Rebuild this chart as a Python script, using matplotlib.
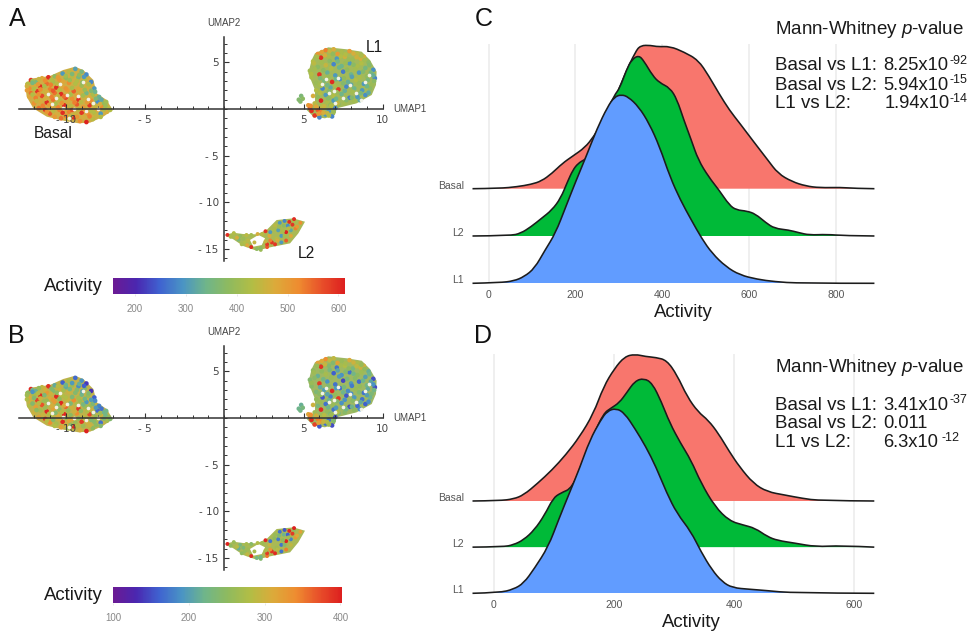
import matplotlib
matplotlib.use('Agg')
import matplotlib.pyplot as plt
from matplotlib.cm import ScalarMappable
from matplotlib.colors import LinearSegmentedColormap, Normalize
from matplotlib.patches import PathPatch
from matplotlib.path import Path
from matplotlib.transforms import ScaledTranslation

plt.rcParams['font.family'] = ['Liberation Sans', 'DejaVu Sans']
plt.rcParams['mathtext.fontset'] = 'custom'
plt.rcParams['mathtext.it'] = 'Liberation Sans:italic'
plt.rcParams['mathtext.rm'] = 'Liberation Sans'

W, H = 973, 635

# cluster outlines on the UMAP plane
basal_out_x = [-12.57, -12.05, -11.0, -10.16, -9.42, -8.9, -8.26, -8.05, -7.42, -7.04, -7.63, -8.47, -9.2, -10.16, -11.2, -12.05, -12.47]
basal_out_y = [2.75, 3.29, 3.54, 4.18, 4.53, 4.18, 3.11, 1.68, 0.96, -0.11, -0.82, -1.47, -1.53, -1.25, -0.82, 0.07, 1.32]
l1_out_x = [5.72, 6.56, 7.72, 8.67, 9.19, 9.61, 9.57, 9.3, 8.35, 7.09, 6.98, 6.35, 5.62, 5.2, 5.72, 5.72, 5.3, 5.51]
l1_out_y = [5.97, 6.61, 6.4, 6.14, 5.25, 4.0, 2.57, 1.5, 0.61, 0.07, -0.64, -1.0, -0.82, -0.11, 0.61, 2.04, 3.82, 5.25]
l2_out_x = [0.04, 0.57, 1.2, 2.04, 2.67, 3.3, 4.35, 5.09, 4.67, 4.15, 2.88, 2.04, 1.2, 0.57]
l2_out_y = [-13.5, -13.26, -13.4, -13.43, -12.97, -11.9, -11.72, -12.08, -13.33, -14.4, -14.83, -15.19, -14.69, -13.97]
l2_hole_x = [1.62, 2.15, 2.57, 2.36, 1.83]
l2_hole_y = [-14.04, -13.5, -13.86, -14.58, -14.76]

# single cells, with activity for panel A and panel B
basal_x = [-12.4, -12.2, -11.9, -11.5, -11.1, -10.7, -10.2, -9.8, -9.4, -9.0, -8.7,
           -12.3, -12.0, -11.6, -11.2, -10.8, -10.4, -10.0, -9.6, -9.2, -8.8, -8.4,
           -12.2, -11.8, -11.4, -11.0, -10.6, -10.2, -9.8, -9.4, -9.0, -8.6, -8.2,
           -12.3, -11.9, -11.5, -11.1, -10.7, -10.3, -9.9, -9.5, -9.1, -8.7, -8.3, -7.9,
           -12.0, -11.6, -11.2, -10.8, -10.4, -10.0, -9.6, -9.2, -8.8, -8.4, -8.0, -7.6,
           -11.7, -11.3, -10.9, -10.5, -10.1, -9.7, -9.3, -8.9, -8.5, -8.1, -7.7, -7.3,
           -11.0, -10.6, -10.2, -9.8, -9.4, -9.0, -8.6, -8.2, -7.8, -7.4,
           -10.3, -9.9, -9.5, -9.1, -8.7, -8.3,
           -12.1, -11.7, -11.3, -10.9, -10.5, -10.0, -9.6, -9.15, -8.85,
           -12.45, -12.1, -11.75, -11.35, -10.95, -10.55, -10.15, -9.75, -9.3, -8.95, -8.55,
           -12.45, -12.0, -11.6, -11.2, -10.8, -10.4, -10.0, -9.6, -9.2, -8.8, -8.4, -8.15,
           -12.1, -11.7, -11.3, -10.9, -10.5, -10.1, -9.7, -9.3, -8.9, -8.5, -8.1, -7.75, -7.45,
           -11.85, -11.45, -11.05, -10.65, -10.25, -9.85, -9.45, -9.05, -8.65, -8.25, -7.85, -7.5, -7.2,
           -11.2, -10.8, -10.4, -10.0, -9.6, -9.2, -8.8, -8.4, -8.0, -7.6,
           -10.7, -10.0, -9.7, -9.3, -8.9, -8.5, -8.1, -7.8]
basal_y = [2.7, 3.1, 2.9, 3.3, 3.4, 3.5, 3.8, 4.0, 4.3, 4.0, 3.7,
           2.2, 2.5, 2.4, 2.7, 2.9, 3.1, 3.3, 3.5, 3.4, 3.2, 2.9,
           1.7, 1.9, 1.8, 2.1, 2.3, 2.4, 2.8, 2.7, 2.5, 2.4, 2.2,
           1.3, 1.2, 1.4, 1.5, 1.7, 1.6, 2.0, 1.9, 1.8, 1.7, 1.5, 1.3,
           0.6, 0.8, 0.7, 1.0, 0.9, 1.2, 1.1, 1.0, 1.2, 0.9, 0.8, 0.6,
           0.1, -0.1, 0.3, 0.2, 0.4, 0.3, 0.5, 0.2, 0.4, 0.1, 0.2, 0.1,
           -0.5, -0.6, -0.4, -0.3, -0.5, -0.4, -0.5, -0.4, -0.5, -0.3,
           -1.0, -1.1, -0.9, -1.3, -1.4, -1.1,
           3.0, 3.2, 3.05, 3.15, 3.4, 3.55, 3.75, 3.65, 3.45,
           2.45, 2.8, 2.65, 2.45, 2.6, 2.7, 2.95, 3.1, 3.0, 2.85, 2.65,
           2.0, 2.15, 2.1, 1.85, 1.95, 2.05, 2.2, 2.25, 2.15, 2.05, 1.95, 1.85,
           1.55, 1.6, 1.1, 1.3, 1.4, 1.35, 1.55, 1.45, 1.45, 1.25, 1.1, 1.0, 0.75,
           0.85, 0.35, 0.45, 0.55, 0.65, 0.8, 0.7, 0.75, 0.7, 0.55, 0.5, 0.35, -0.1,
           -0.3, -0.2, -0.1, 0.0, -0.1, -0.05, -0.1, -0.2, -0.1, -0.05,
           -0.85, -0.75, -0.75, -0.85, -0.85, -0.8, -0.75, -0.85]
basal_a = [430, 590, 360, 480, 600, 380, 300, 440, 310, 350, 285,
           520, 470, 600, 545, 420, 505, 390, 440, 350, 430, 280,
           540, 590, 455, 530, 600, 480, 520, 430, 405, 460, 300,
           480, 530, 575, 445, 540, 600, 500, 555, 460, 345, 420, 330,
           510, 470, 600, 540, 430, 575, 510, 600, 460, 520, 290, 390,
           540, 590, 480, 525, 600, 440, 560, 500, 590, 450, 520, 440,
           560, 470, 600, 530, 455, 590, 510, 430, 300, 470,
           540, 450, 600, 520, 610, 440,
           400, 450, 520, 430, 500, 410, 360, 390, 300,
           460, 350, 500, 420, 530, 440, 480, 400, 430, 380, 420,
           500, 430, 520, 470, 560, 440, 510, 420, 480, 400, 370, 340,
           430, 510, 470, 530, 450, 545, 420, 490, 410, 470, 360, 320, 410,
           450, 530, 500, 420, 510, 470, 530, 440, 500, 430, 470, 400, 430,
           510, 440, 530, 480, 560, 440, 500, 430, 480, 420,
           500, 530, 440, 510, 470, 530, 450, 430]
basal_b = [250, 395, 215, 290, 390, 210, 160, 270, 165, 190, 140,
           310, 270, 395, 330, 240, 300, 210, 260, 185, 240, 135,
           300, 380, 265, 310, 395, 280, 300, 240, 225, 260, 160,
           280, 320, 370, 250, 325, 395, 295, 340, 265, 195, 235, 180,
           300, 270, 395, 320, 245, 360, 300, 390, 260, 300, 165, 220,
           320, 385, 280, 310, 395, 250, 340, 290, 375, 260, 300, 255,
           340, 270, 395, 315, 260, 385, 300, 245, 170, 270,
           320, 255, 395, 305, 400, 250,
           225, 255, 305, 240, 285, 220, 195, 215, 160,
           265, 190, 285, 235, 300, 250, 270, 225, 240, 205, 240,
           280, 240, 300, 260, 325, 250, 280, 235, 270, 225, 200, 185,
           240, 285, 265, 305, 250, 310, 235, 275, 230, 260, 195, 170, 225,
           250, 295, 280, 240, 285, 260, 300, 250, 280, 240, 265, 225, 240,
           285, 245, 300, 270, 320, 250, 280, 240, 270, 235,
           280, 305, 250, 285, 265, 300, 250, 240]

l1_x = [5.9, 6.4, 6.9, 7.4, 7.9, 8.4, 8.8,
        5.6, 6.1, 6.6, 7.1, 7.6, 8.1, 8.6, 9.1,
        5.4, 5.9, 6.4, 6.9, 7.4, 7.9, 8.4, 8.9, 9.4,
        5.5, 6.0, 6.5, 7.0, 7.5, 8.0, 8.5, 9.0, 9.5,
        5.8, 6.3, 6.8, 7.3, 7.8, 8.3, 8.8, 9.3,
        5.8, 6.2, 6.7, 7.2, 7.7, 8.2, 8.7, 9.2,
        5.9, 6.4, 6.9, 7.4, 7.9, 8.4, 8.9,
        5.4, 5.7, 6.1, 6.5, 6.9, 7.2, 7.6,
        5.5, 5.9, 6.2, 6.6, 7.0,
        5.7, 6.0, 6.4, 6.8,
        4.7, 4.85, 4.95, 4.8, 5.6, 5.3,
        6.15, 6.65, 7.15, 7.65, 8.15, 8.65, 5.85, 6.35, 6.85, 7.35, 7.85, 8.35, 8.85,
        5.65, 6.15, 6.65, 7.15, 7.65, 8.15, 8.65, 9.15, 5.7, 6.25, 6.75, 7.25, 7.75, 8.25, 8.75, 9.25,
        5.5, 6.05, 6.55, 7.05, 7.55, 8.05, 8.55, 9.05, 9.4, 6.0, 6.5, 7.0, 7.5, 8.0, 8.5, 9.0, 9.45,
        6.1, 6.6, 7.1, 7.6, 8.1, 8.6, 9.1, 6.05, 6.55, 7.05, 7.55, 8.05, 8.55,
        6.2, 6.7, 7.15, 7.7, 8.2, 5.45, 5.8, 6.3, 6.75, 6.1, 6.5, 6.9, 5.95, 6.25, 6.6]
l1_y = [5.9, 6.3, 6.4, 6.1, 6.2, 5.9, 5.6,
        5.1, 5.5, 5.6, 5.4, 5.6, 5.3, 5.4, 5.0,
        4.1, 4.5, 4.7, 4.8, 4.6, 4.9, 4.6, 4.4, 4.2,
        3.4, 3.7, 3.9, 3.6, 4.0, 3.7, 3.9, 3.5, 3.3,
        2.8, 3.0, 2.9, 3.2, 2.9, 3.1, 2.7, 2.6,
        2.0, 2.2, 2.3, 2.1, 2.4, 2.2, 2.0, 2.2,
        1.3, 1.5, 1.4, 1.6, 1.2, 1.3, 1.5,
        0.1, 0.6, 0.9, 0.7, 0.9, 0.5, 0.6,
        -0.2, -0.1, 0.2, -0.2, 0.1,
        -0.7, -0.9, -0.6, -0.8,
        1.0, 1.4, 1.1, 0.8, 1.4, 0.4,
        6.1, 6.2, 5.9, 5.85, 5.95, 5.7, 5.6, 5.75, 5.9, 5.65, 5.3, 5.55, 5.25,
        4.9, 5.0, 5.15, 5.1, 4.95, 4.75, 4.9, 4.7, 4.3, 4.15, 4.35, 4.45, 4.2, 4.25, 4.0, 3.9,
        3.75, 3.3, 3.45, 3.2, 3.3, 3.45, 3.4, 3.1, 3.6, 2.6, 2.55, 2.5, 2.75, 2.6, 2.75, 2.45, 3.0,
        2.5, 1.9, 1.8, 1.95, 1.85, 1.7, 1.75, 1.7, 1.15, 1.1, 1.05, 1.2, 0.95,
        0.35, 0.45, 0.6, 0.95, 0.85, 0.35, 0.25, 0.3, 0.35, -0.35, -0.45, -0.3, -0.5, -0.4, -0.7]
l1_a = [510, 530, 470, 420, 500, 440, 470,
        430, 600, 420, 300, 460, 400, 470, 380,
        410, 380, 450, 280, 340, 300, 420, 350, 290,
        420, 590, 330, 300, 270, 340, 300, 390, 280,
        400, 360, 600, 290, 330, 430, 300, 400,
        430, 280, 320, 590, 280, 340, 300, 380,
        390, 300, 430, 340, 270, 300, 290,
        580, 440, 610, 420, 300, 380, 410,
        600, 560, 470, 300, 280,
        590, 280, 300, 280,
        370, 360, 380, 370, 470, 500,
        490, 450, 500, 430, 470, 420, 420, 470, 390, 430, 400, 460, 410,
        440, 410, 380, 350, 400, 380, 430, 370, 410, 380, 430, 340, 390, 410, 370, 350,
        430, 360, 400, 340, 390, 310, 420, 360, 330, 410, 350, 420, 370, 320, 400, 340, 380,
        420, 370, 400, 330, 410, 360, 320, 430, 380, 340, 400, 370, 320,
        430, 390, 450, 370, 410, 520, 480, 450, 430, 530, 450, 400, 500, 470, 430]
l1_b = [320, 340, 290, 260, 310, 270, 300,
        250, 390, 240, 170, 280, 230, 300, 215,
        240, 215, 270, 160, 190, 170, 250, 200, 150,
        245, 385, 190, 170, 145, 195, 165, 225, 150,
        235, 200, 395, 165, 185, 260, 170, 235,
        255, 155, 180, 385, 155, 195, 170, 220,
        230, 170, 260, 190, 150, 165, 160,
        350, 265, 395, 255, 170, 220, 245,
        395, 350, 290, 170, 150,
        380, 155, 170, 150,
        220, 215, 230, 225, 300, 315,
        310, 290, 320, 270, 300, 260, 260, 295, 240, 270, 250, 290, 255,
        265, 250, 230, 205, 240, 225, 265, 220, 245, 225, 260, 195, 230, 245, 220, 205,
        260, 210, 240, 195, 230, 175, 255, 210, 190, 245, 205, 255, 220, 185, 240, 200, 225,
        250, 220, 240, 190, 245, 210, 185, 260, 225, 195, 240, 220, 185,
        265, 235, 280, 225, 250, 340, 300, 285, 265, 340, 280, 240, 320, 295, 265]

l2_x = [0.2, 0.6, 1.0, 1.4, 1.7, 2.1, 2.6, 2.9, 3.2, 3.5, 3.8, 4.1, 4.4, 4.8,
        0.9, 1.3, 1.7, 2.3, 2.7, 3.0, 3.3, 3.6, 3.9, 4.2, 4.5,
        3.4, 3.7, 4.0, 4.3, 2.9, 3.2, 3.6, 3.9, 1.9, 2.3, 2.7, 4.4, 4.2,
        0.4, 0.8, 1.2, 1.5, 2.4, 2.85, 3.15, 3.45, 3.75, 4.05, 4.6, 1.1, 1.45, 2.05, 2.6, 3.35, 3.8]
l2_y = [-13.5, -13.3, -13.6, -13.5, -13.5, -13.4, -13.1, -13.2, -12.5, -12.2, -12.0, -12.1, -12.0, -12.2,
        -14.0, -14.3, -14.8, -15.1, -14.8, -14.3, -13.9, -13.6, -13.2, -13.0, -12.8,
        -13.0, -13.1, -12.5, -12.4, -14.1, -14.5, -14.3, -14.1, -14.3, -14.9, -14.5, -11.8, -13.6,
        -13.7, -13.8, -13.9, -14.1, -13.4, -13.6, -12.9, -12.6, -12.5, -12.8, -12.6, -14.5, -14.6, -15.0, -14.2, -14.1, -13.6]
l2_a = [600, 430, 390, 440, 410, 470, 590, 300, 440, 300, 280, 600, 420, 520,
        360, 430, 600, 400, 560, 590, 440, 300, 610, 320, 530,
        310, 420, 290, 590, 530, 590, 300, 560, 450, 380, 590, 600, 480,
        420, 470, 400, 440, 440, 480, 420, 400, 380, 440, 500, 420, 480, 380, 450, 470, 410]
l2_b = [400, 260, 230, 270, 245, 280, 395, 170, 260, 170, 155, 395, 250, 320,
        215, 260, 395, 240, 350, 390, 265, 170, 400, 180, 330,
        175, 250, 160, 385, 330, 395, 170, 350, 270, 225, 385, 400, 290,
        250, 285, 235, 265, 265, 295, 250, 235, 220, 265, 310, 250, 290, 225, 275, 285, 240]

# pale gaps between the cells
basal_gap_x = [-11.1, -10.6, -10.35, -9.9, -9.2, -8.9, -8.6, -9.5, -10.2, -10.9, -8.3, -8.75, -9.8, -7.95]
basal_gap_y = [1.65, 1.2, 2.7, 1.5, 1.35, 2.85, 1.05, 0.0, 0.1, 0.5, 0.65, -0.2, -1.0, 0.0]
l1_gap_x = [7.2, 7.9, 6.4, 8.3, 8.9, 6.9, 7.5, 6.15, 8.6, 7.0, 6.6, 9.1]
l1_gap_y = [3.3, 2.6, 3.2, 1.7, 2.9, 1.9, 1.2, 2.7, 0.95, 0.6, 1.75, 3.65]

colorbar_colors = ['#6b1a94', '#4a27b0', '#3f62d0', '#4a94c4', '#6fb58a', '#8fba5e', '#b2bd45', '#dcaa3a', '#ee8c30', '#e8502a', '#dd1f1f']

# ridge curves: activity and height above the row baseline, panel C
c_basal_x = [-37, 26, 66, 98, 122, 146, 170, 194, 222, 242, 266, 290, 314, 338, 350, 374, 390, 418, 450, 483, 507, 531, 555, 579, 611, 643, 667, 699, 731, 763, 811, 843, 889]
c_basal_y = [0, .007, .042, .092, .162, .324, .535, .69, .87, 1.10, 1.45, 1.87, 2.42, 2.89, 3.03, 3.03, 3.0, 3.01, 2.89, 2.72, 2.39, 2.01, 1.66, 1.38, .99, .61, .32, .15, .056, .02, .028, .007, 0]
c_l2_x = [-37, 50, 74, 98, 122, 146, 166, 182, 194, 206, 222, 236, 266, 290, 302, 318, 330, 346, 358, 378, 394, 418, 434, 450, 467, 483, 507, 531, 555, 571, 595, 615, 639, 659, 691, 715, 739, 779, 819, 889]
c_l2_y = [0, .007, .056, .197, .373, .55, .796, 1.15, 1.39, 1.535, 1.62, 1.69, 2.52, 2.98, 3.12, 3.52, 3.73, 3.82, 3.70, 3.39, 3.24, 3.13, 2.89, 2.45, 2.03, 1.61, 1.25, .97, .65, .55, .528, .465, .28, .16, .127, .07, .02, .035, .007, 0]
c_l1_x = [-37, 26, 58, 82, 106, 130, 154, 178, 202, 226, 250, 274, 290, 306, 322, 346, 370, 394, 418, 442, 467, 491, 515, 547, 579, 619, 659, 715, 889]
c_l1_y = [0, .014, .049, .14, .317, .70, 1.056, 1.62, 2.18, 2.71, 3.27, 3.73, 3.94, 3.99, 3.94, 3.73, 3.38, 2.89, 2.25, 1.76, 1.34, .95, .634, .35, .176, .085, .035, 0, 0]

# panel D
d_basal_x = [-35, 10, 33, 50, 73, 97, 120, 143, 166, 183, 201, 218, 235, 253, 270, 288, 305, 322, 340, 357, 374, 392, 409, 432, 455, 484, 513, 542, 633]
d_basal_y = [0, .007, .043, .13, .38, .67, 1.0, 1.39, 1.89, 2.48, 2.87, 3.13, 3.18, 3.13, 3.11, 3.05, 2.73, 2.26, 1.93, 1.75, 1.46, 1.07, .74, .38, .2, .13, .058, .007, 0]
d_l2_x = [-35, 16, 33, 50, 68, 85, 99, 111, 131, 149, 166, 183, 195, 209, 221, 235, 250, 264, 279, 293, 311, 328, 345, 368, 392, 415, 435, 455, 472, 501, 536, 577, 633]
d_l2_y = [0, .007, .05, .158, .375, .70, 1.06, 1.17, 1.28, 1.89, 2.43, 2.90, 3.01, 3.13, 3.34, 3.6, 3.66, 3.55, 3.15, 2.69, 2.25, 1.89, 1.39, .88, .57, .48, .41, .23, .145, .087, .007, .036, 0]
d_l1_x = [-35, 10, 33, 50, 68, 91, 108, 126, 143, 160, 178, 189, 204, 218, 235, 253, 270, 288, 305, 328, 345, 363, 380, 397, 426, 455, 496, 633]
d_l1_y = [0, .014, .087, .217, .54, 1.01, 1.59, 2.17, 2.71, 3.32, 3.75, 3.95, 4.01, 3.90, 3.57, 3.18, 2.74, 2.17, 1.73, 1.34, .90, .51, .25, .12, .087, .058, .007, 0]

ridge_names = ['L1', 'L2', 'Basal']
ridge_colors = ['#619CFF', '#00BA38', '#F8766D']


def px_axes(fig, left, top, right, bottom):
    '''axes from pixel edges measured from the top left'''
    return fig.add_axes([left / W, 1 - bottom / H, (right - left) / W, (bottom - top) / H])


def px_text(fig, x, y, s, size, ha='left', color='#1a1a1a', **kw):
    fig.text(x / W, 1 - y / H, s, fontsize=size, ha=ha, va='center', color=color, **kw)


def umap_panel(fig, top, zero_y, vals, cbar_top, cbar_right, norm, cbar_ticks, labels):
    ax = px_axes(fig, 19, top, 383, top + 224)
    ax.set_xlim((19 - 224.3) / 15.85, (383 - 224.3) / 15.85)
    ax.set_ylim((zero_y - (top + 224)) / 9.33, (zero_y - top) / 9.33)
    ax.patch.set_alpha(0)

    ax.fill(basal_out_x, basal_out_y, color=vals['basal_bg'], lw=0, zorder=1)
    ax.fill(l1_out_x, l1_out_y, color=vals['l1_bg'], lw=0, zorder=1)
    ax.fill(l2_out_x, l2_out_y, color=vals['l2_bg'], lw=0, zorder=1)
    ax.fill(l2_hole_x, l2_hole_y, color='white', lw=0, zorder=1.1)

    cmap = LinearSegmentedColormap.from_list('rainbow_wl', colorbar_colors)
    ax.scatter(basal_x, basal_y, c=vals['basal'], cmap=cmap, norm=norm, s=11, lw=0, zorder=1.5)
    ax.scatter(l1_x, l1_y, c=vals['l1'], cmap=cmap, norm=norm, s=11, lw=0, zorder=1.5)
    ax.scatter(l2_x, l2_y, c=vals['l2'], cmap=cmap, norm=norm, s=8, lw=0, zorder=1.5)
    ax.scatter(basal_gap_x, basal_gap_y, c='#f4f1e4', s=7, lw=0, zorder=1.6)
    ax.scatter(l1_gap_x, l1_gap_y, c='#f2f3e8', s=7, lw=0, zorder=1.6)

    for side in ['top', 'right']:
        ax.spines[side].set_visible(False)
    ax.spines['left'].set_position('zero')
    ax.spines['bottom'].set_position('zero')
    ax.spines['left'].set_color('#333333')
    ax.spines['bottom'].set_color('#333333')
    ax.spines['left'].set_linewidth(1.1)
    ax.spines['bottom'].set_linewidth(1.1)
    ax.set_xticks([-10, -5, 5, 10])
    ax.set_xticklabels(['- 10', '- 5', '5', '10'], fontsize=7.5, color='#444444', family='DejaVu Sans')
    ax.set_yticks([-15, -10, -5, 5])
    ax.set_yticklabels(['- 15', '- 10', '- 5', '5'], fontsize=7.5, color='#444444', family='DejaVu Sans')
    ax.set_xticks(range(-12, 10), minor=True)
    ax.set_yticks(range(-16, 8), minor=True)
    ax.tick_params(which='major', direction='in', length=3.5, width=0.8, color='#333333', pad=4)
    ax.tick_params(which='minor', direction='in', length=2, width=0.7, color='#333333')

    px_text(fig, 224, top - 14, 'UMAP2', 7, ha='center', color='#444444')
    px_text(fig, 393, zero_y, 'UMAP1', 7, color='#444444')

    cax = px_axes(fig, 113, cbar_top, cbar_right, cbar_top + 16)
    cbar = fig.colorbar(ScalarMappable(norm=norm, cmap=cmap), cax=cax, orientation='horizontal')
    cbar.set_ticks(cbar_ticks)
    cbar.outline.set_visible(False)
    cbar.ax.tick_params(length=1.5, width=0.5, color='#dddddd', labelsize=7, labelcolor='#888888', pad=6)
    px_text(fig, 44, cbar_top + 9, 'Activity', 13.4)

    for x, y, s, size in labels:
        px_text(fig, x, y, s, size)


def ridge_path(x, y, row, closed):
    '''quadratic curve that uses the read values as control points'''
    verts = [(x[0], row + y[0])]
    codes = [Path.MOVETO]
    for i in range(1, len(x) - 1):
        verts.append((x[i], row + y[i]))
        codes.append(Path.CURVE3)
        end = len(x) - 2
        if i == end:
            verts.append((x[-1], row + y[-1]))
        else:
            verts.append(((x[i] + x[i + 1]) / 2, row + (y[i] + y[i + 1]) / 2))
        codes.append(Path.CURVE3)
    if closed:
        verts.append((x[0], row))
        codes.append(Path.LINETO)
    return Path(verts, codes)


def ridge_panel(fig, top, base, spacing, xlim, xticks, curves):
    ax = px_axes(fig, 472.5, top, 874, base)
    ax.set_xlim(*xlim)
    ax.set_ylim(0, (base - top) / spacing)
    for i in [2, 1, 0]:
        x, y = curves[i]
        ax.add_patch(PathPatch(ridge_path(x, y, i, True), facecolor=ridge_colors[i], lw=0, zorder=3 + (2 - i)))
        ax.add_patch(PathPatch(ridge_path(x, y, i, False), facecolor='none', edgecolor='#1c1c1c', lw=1.15,
                               zorder=3.5 + (2 - i), clip_on=False))
    for g in xticks:
        ax.axvline(g, color='#ebebeb', lw=1.1, zorder=1)
    for side in ax.spines:
        ax.spines[side].set_visible(False)
    ax.set_xticks(xticks)
    ax.set_xticklabels([str(t) for t in xticks])
    ax.set_yticks([0, 1, 2])
    ax.set_yticklabels(ridge_names, va='bottom')
    ax.tick_params(length=0, labelsize=7.5, labelcolor='#555555')
    ax.tick_params(axis='x', pad=5)
    ax.tick_params(axis='y', pad=6)
    shift = ScaledTranslation(0, -2 / 100, fig.dpi_scale_trans)
    for label in ax.get_yticklabels():
        label.set_transform(label.get_transform() + shift)


def pvalue_block(fig, heading_y, rows):
    fig.text(775 / W, 1 - heading_y / H, r'Mann-Whitney $\mathit{p}$-value', fontsize=13.5, va='center', color='#1a1a1a')
    for y, name, val, exp, exp_x, val_x in rows:
        px_text(fig, 775, y, name, 13.5)
        px_text(fig, val_x, y, val, 13.2)
        if exp:
            px_text(fig, exp_x, y - 5, exp, 9)


fig = plt.figure(figsize=(W / 100, H / 100), dpi=100)

vals_a = {'basal': basal_a, 'l1': l1_a, 'l2': l2_a, 'basal_bg': '#cfae45', 'l1_bg': '#a3b95a', 'l2_bg': '#a9b955'}
vals_b = {'basal': basal_b, 'l1': l1_b, 'l2': l2_b, 'basal_bg': '#c0b24c', 'l1_bg': '#9fb862', 'l2_bg': '#a9b955'}

umap_panel(fig, 37, 109, vals_a, 278, 345, Normalize(157, 613), [200, 300, 400, 500, 600],
           [(34, 134, 'Basal', 11.2), (366, 48, 'L1', 11.2), (298, 253, 'L2', 11.2)])
umap_panel(fig, 346, 418, vals_b, 587, 342, Normalize(100, 402), [100, 200, 300, 400], [])

ridge_panel(fig, 44, 283.3, 47.3, (-37, 888), [0, 200, 400, 600, 800],
            [(c_l1_x, c_l1_y), (c_l2_x, c_l2_y), (c_basal_x, c_basal_y)])
ridge_panel(fig, 354, 593.3, 46.15, (-35, 632.5), [0, 200, 400, 600],
            [(d_l1_x, d_l1_y), (d_l2_x, d_l2_y), (d_basal_x, d_basal_y)])

px_text(fig, 683, 312.7, 'Activity', 13.4, ha='center')
px_text(fig, 691.7, 622.7, 'Activity', 13.4, ha='center')

for x, y, s in [(9, 19, 'A'), (8, 336, 'B'), (475, 19, 'C'), (473.5, 336, 'D')]:
    px_text(fig, x, y, s, 18, color='#111111')

pvalue_block(fig, 29, [(66, 'Basal vs L1:', '8.25x10', '-92', 950, 883),
                       (85, 'Basal vs L2:', '5.94x10', '-15', 950, 883),
                       (104, 'L1 vs L2:', '1.94x10', '-14', 950, 885)])
pvalue_block(fig, 367.7, [(405, 'Basal vs L1:', '3.41x10', '-37', 950, 883),
                          (424, 'Basal vs L2:', '0.011', '', 0, 883),
                          (442.7, 'L1 vs L2:', '6.3x10', '-12', 941, 883)])

fig.savefig('out.png', dpi=100)
